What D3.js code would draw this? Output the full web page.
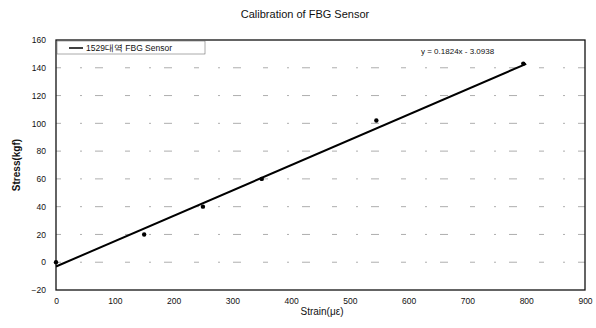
<!DOCTYPE html>
<html>
<head>
<meta charset="utf-8">
<script src="https://cdn.jsdelivr.net/npm/d3@7"></script>
<style>
  body { margin: 0; background: #fff; }
  svg text { font-family: "Liberation Sans", Arial, sans-serif; fill: #111; }
</style>
</head>
<body>
<svg id="chart" width="596" height="328"></svg>
<script>
// measured points
const strain = [0, 150, 250, 350, 545, 795];
const stress = [0, 20, 40, 60, 102, 143];
const xTicks = [0, 100, 200, 300, 400, 500, 600, 700, 800, 900];
const yTicks = [-20, 0, 20, 40, 60, 80, 100, 120, 140, 160];
const slope = 0.1824, intercept = -3.0938;
const trendX = [0, 800];

const svg = d3.select("#chart");
const margin = { top: 40, right: 11, bottom: 38, left: 56 };
const width = 596 - margin.left - margin.right;
const height = 328 - margin.top - margin.bottom;

const x = d3.scaleLinear().domain([0, 900]).range([margin.left, margin.left + width]);
const y = d3.scaleLinear().domain([-20, 160]).range([margin.top + height, margin.top]);

svg.append("text")
    .attr("x", 305).attr("y", 18)
    .attr("text-anchor", "middle")
    .style("font-size", "11px")
    .text("Calibration of FBG Sensor");

// faint broken gridlines like the scan
svg.append("g").selectAll("line")
    .data(yTicks.filter(d => d > -20 && d < 160))
    .join("line")
    .attr("x1", x(0)).attr("x2", x(900))
    .attr("y1", d => y(d)).attr("y2", d => y(d))
    .attr("stroke", "#999")
    .attr("stroke-width", 0.8)
    .attr("stroke-dasharray", "5,19,2,13,8,22");

const xAxis = svg.append("g")
    .attr("transform", `translate(0,${y(-20)})`)
    .call(d3.axisBottom(x).tickValues(xTicks).tickSize(0).tickPadding(8));
const yAxis = svg.append("g")
    .attr("transform", `translate(${x(0)},0)`)
    .call(d3.axisLeft(y).tickValues(yTicks).tickSize(0).tickPadding(10));
[xAxis, yAxis].forEach(g => {
    g.select(".domain").remove();
    g.selectAll("text").style("font-size", "8.5px").style("font-family", "Liberation Sans, Arial, sans-serif");
});

// plot frame
svg.append("rect")
    .attr("x", x(0)).attr("y", y(160))
    .attr("width", x(900) - x(0)).attr("height", y(-20) - y(160))
    .attr("fill", "none").attr("stroke", "#111").attr("stroke-width", 1.3);

// trendline
svg.append("line")
    .attr("x1", x(trendX[0])).attr("y1", y(slope * trendX[0] + intercept))
    .attr("x2", x(trendX[1])).attr("y2", y(slope * trendX[1] + intercept))
    .attr("stroke", "#000").attr("stroke-width", 2);

svg.append("g").selectAll("circle")
    .data(strain.map((d, i) => [d, stress[i]]))
    .join("circle")
    .attr("cx", d => x(d[0])).attr("cy", d => y(d[1]))
    .attr("r", 2.2)
    .attr("fill", "#000");

svg.append("text")
    .attr("x", 421).attr("y", 54)
    .style("font-size", "8px")
    .text("y = 0.1824x - 3.0938");

// legend
const lg = svg.append("g");
lg.append("rect")
    .attr("x", x(0) + 1).attr("y", y(160) + 1)
    .attr("width", 148).attr("height", 13)
    .attr("fill", "#fff").attr("stroke", "#555").attr("stroke-width", 0.5);
lg.append("line")
    .attr("x1", 69).attr("x2", 83).attr("y1", 48).attr("y2", 48)
    .attr("stroke", "#000").attr("stroke-width", 1.5);
lg.append("text")
    .attr("x", 86).attr("y", 51)
    .style("font-size", "8.5px")
    .text("1529대역 FBG Sensor");

svg.append("text")
    .attr("transform", `translate(20,${(y(160) + y(-20)) / 2}) rotate(-90)`)
    .attr("text-anchor", "middle")
    .style("font-size", "10px")
    .style("font-weight", "bold")
    .text("Stress(kgf)");

svg.append("text")
    .attr("x", 322).attr("y", 315)
    .attr("text-anchor", "middle")
    .style("font-size", "10px")
    .text("Strain(με)");
</script>
</body>
</html>
